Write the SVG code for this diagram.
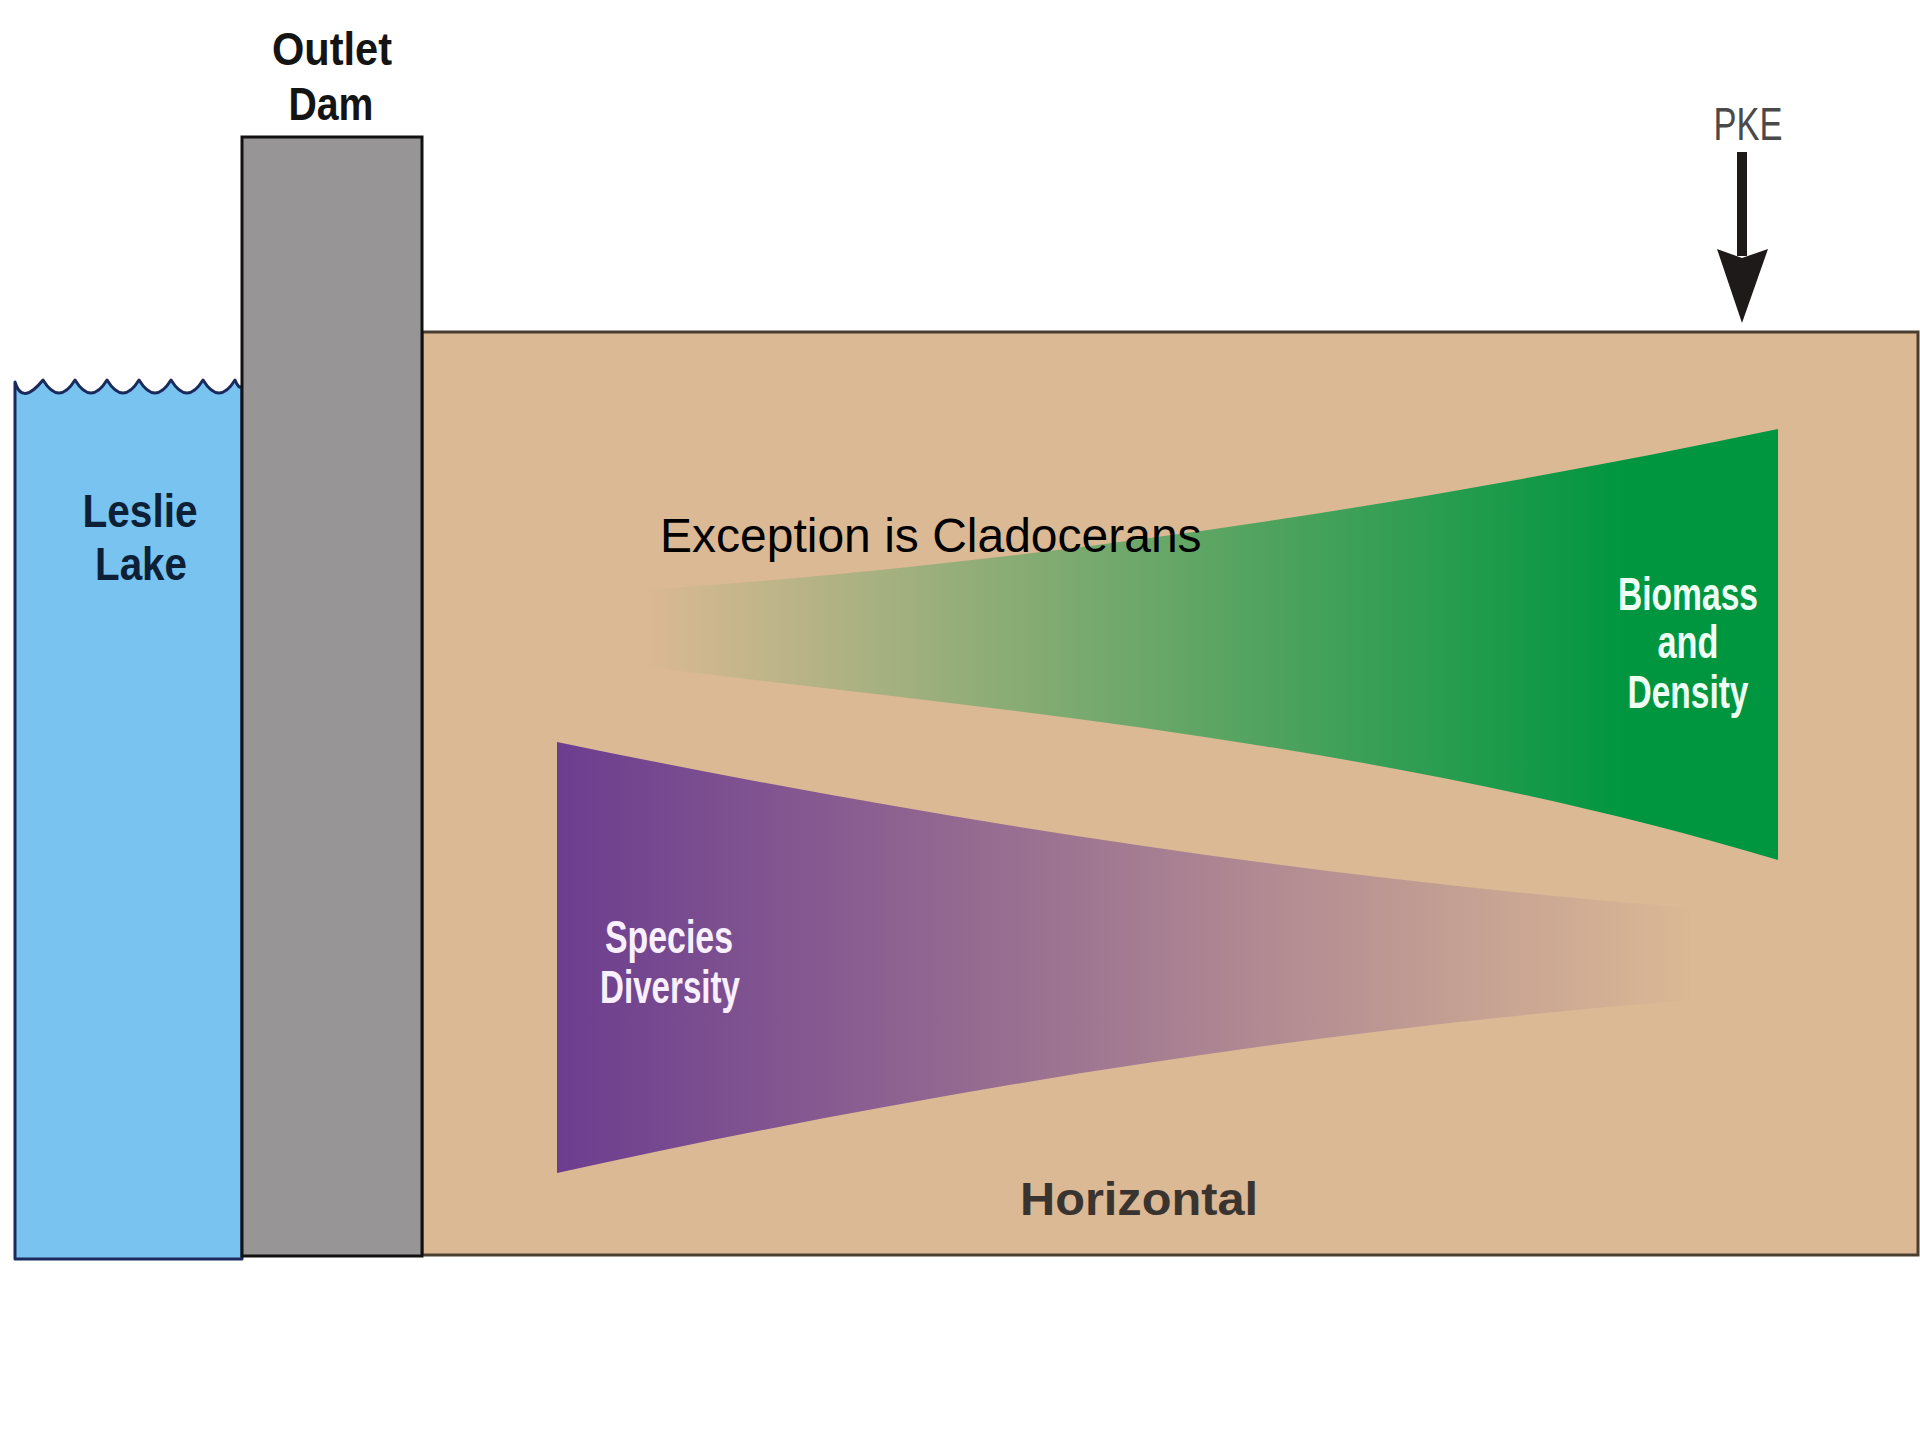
<svg xmlns="http://www.w3.org/2000/svg" width="1920" height="1440" viewBox="0 0 1920 1440">
  <defs>
    <style>
      .lbl { font-family: "Liberation Sans", Arial, sans-serif; font-weight: bold; font-size: 46px; text-anchor: middle; }
      .dark { fill: #141414; }
      .navy { fill: #0e2036; }
      .white { fill: #eefff4; }
      .lav { fill: #f8f0ff; }
    </style>
    <linearGradient id="gGreen" gradientUnits="userSpaceOnUse" x1="645" y1="0" x2="1625" y2="0">
      <stop offset="0" stop-color="#dbb994"/>
      <stop offset="1" stop-color="#009640"/>
    </linearGradient>
    <linearGradient id="gPurple" gradientUnits="userSpaceOnUse" x1="557" y1="0" x2="1695" y2="0">
      <stop offset="0" stop-color="#6c3d8f"/>
      <stop offset="1" stop-color="#dbb994"/>
    </linearGradient>
  </defs>

  <rect x="0" y="0" width="1920" height="1440" fill="#ffffff"/>

  <g id="leslie-lake">
    <path d="M15,382 Q22,406 43,380 q16,26 32,0 q16,26 32,0 q16,26 32,0 q16,26 32,0 q16,26 32,0 q16,26 32,0 q4,10 7,6 L242,1259 L15,1259 Z" fill="#78c3f0" stroke="#1a2a5c" stroke-width="3" stroke-linejoin="round"/>
    <text class="lbl navy" x="140" y="527" textLength="115" lengthAdjust="spacingAndGlyphs">Leslie</text>
    <text class="lbl navy" x="141" y="580" textLength="92" lengthAdjust="spacingAndGlyphs">Lake</text>
  </g>

  <g id="horizontal-zone">
    <rect x="422" y="332" width="1496" height="923" fill="#dbb994" stroke="#4a3e30" stroke-width="3"/>
    <text class="lbl" x="1139" y="1215" font-size="54" fill="#3a3430" textLength="238" lengthAdjust="spacingAndGlyphs">Horizontal</text>
  </g>

  <g id="outlet-dam">
    <rect x="242" y="137" width="180" height="1119" fill="#979596" stroke="#111111" stroke-width="3"/>
    <text class="lbl dark" x="332" y="65" textLength="120" lengthAdjust="spacingAndGlyphs">Outlet</text>
    <text class="lbl dark" x="331" y="120" textLength="85" lengthAdjust="spacingAndGlyphs">Dam</text>
  </g>

  <g id="biomass-density">
    <path d="M645,590 C1023,564 1400,508 1778,429 L1778,860 C1400,747 1023,712 645,667 Z" fill="url(#gGreen)"/>
    <text class="lbl white" x="1688" y="610" textLength="140" lengthAdjust="spacingAndGlyphs">Biomass</text>
    <text class="lbl white" x="1688" y="658" textLength="61" lengthAdjust="spacingAndGlyphs">and</text>
    <text class="lbl white" x="1688" y="708" textLength="121" lengthAdjust="spacingAndGlyphs">Density</text>
  </g>

  <g id="species-diversity">
    <path d="M557,742 C935,820 1312,878 1690,908 L1690,1000 C1312,1030 935,1090 557,1173 Z" fill="url(#gPurple)"/>
    <text class="lbl lav" x="669" y="953" textLength="128" lengthAdjust="spacingAndGlyphs">Species</text>
    <text class="lbl lav" x="670" y="1003" textLength="140" lengthAdjust="spacingAndGlyphs">Diversity</text>
  </g>

  <g id="exception-note">
    <text x="660" y="552" font-family="Liberation Sans, Arial, sans-serif" font-size="48" fill="#000000">Exception is Cladocerans</text>
  </g>

  <g id="pke">
    <text x="1748" y="140" font-family="Liberation Sans, Arial, sans-serif" font-size="46" fill="#4a4a4a" text-anchor="middle" textLength="69" lengthAdjust="spacingAndGlyphs">PKE</text>
  </g>

  <g id="connectors">
    <rect x="1737" y="152" width="10" height="104" fill="#1f1a1a"/>
    <polygon points="1717,249 1742,258 1768,249 1742,323" fill="#1f1a1a"/>
  </g>
</svg>
